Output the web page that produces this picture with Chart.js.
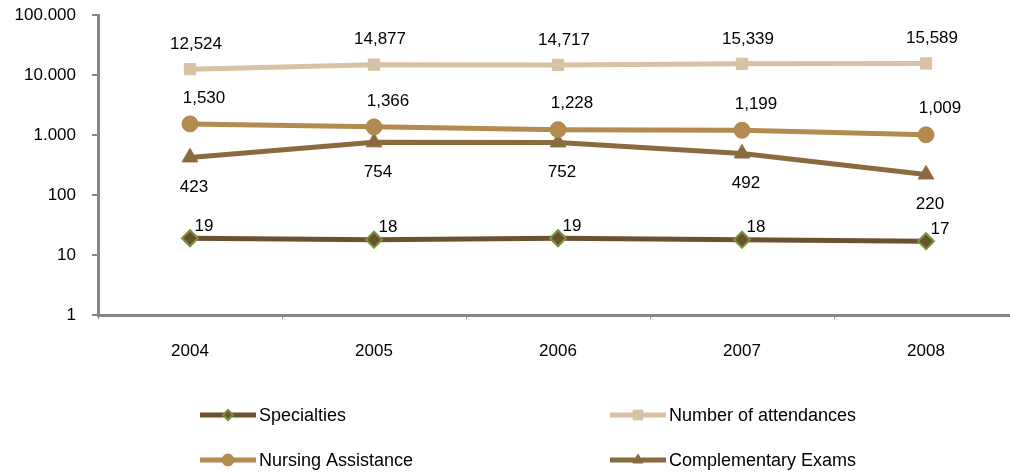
<!DOCTYPE html>
<html>
<head>
<meta charset="utf-8">
<script src="https://cdn.jsdelivr.net/npm/chart.js@4/dist/chart.umd.min.js"></script>
<style>
  html, body { margin: 0; padding: 0; background: #fff; overflow: hidden; }
  .wrap { width: 1010px; height: 472px; overflow: hidden; }
  canvas { display: block; }
</style>
</head>
<body>
<div class="wrap">
  <canvas id="chart" width="1028" height="472"></canvas>
</div>
<script>
const years = ["2004", "2005", "2006", "2007", "2008"];
const specialties = [19, 18, 19, 18, 17];
const attendances = [12524, 14877, 14717, 15339, 15589];
const nursing = [1530, 1366, 1228, 1199, 1009];
const exams = [423, 754, 752, 492, 220];
const yTicks = [1, 10, 100, 1000, 10000, 100000];

const FONT = "'Liberation Sans', Arial, sans-serif";

// label offsets relative to the point (dx, dy)
const labelOffsets = {
  "Number of attendances": [6, -25],
  "Nursing Assistance": [14, -26],
  "Complementary Exams": [4, 30],
  "Specialties": [14, -12],
};

const fmtComma = (v) => v.toLocaleString("en-US");
const fmtDot = (v) => v.toLocaleString("en-US").replace(/,/g, ".");

const dataLabels = {
  id: "dataLabels",
  afterDatasetsDraw(chart) {
    const ctx = chart.ctx;
    ctx.save();
    ctx.font = "17px " + FONT;
    ctx.fillStyle = "#000";
    ctx.textAlign = "center";
    ctx.textBaseline = "middle";
    chart.data.datasets.forEach((ds, i) => {
      const off = labelOffsets[ds.label];
      chart.getDatasetMeta(i).data.forEach((pt, j) => {
        ctx.fillText(fmtComma(ds.data[j]), pt.x + off[0], pt.y + off[1]);
      });
    });
    ctx.restore();
  },
};

// legend in a 2x2 grid under the plot
const legendSlots = {
  "Specialties": [200, 415],
  "Number of attendances": [610, 415],
  "Nursing Assistance": [200, 460],
  "Complementary Exams": [610, 460],
};

const gridLegend = {
  id: "gridLegend",
  afterDraw(chart) {
    const ctx = chart.ctx;
    ctx.save();
    chart.data.datasets.forEach((ds) => {
      const [x, y] = legendSlots[ds.label];
      ctx.strokeStyle = ds.borderColor;
      ctx.lineWidth = 5;
      ctx.beginPath();
      ctx.moveTo(x, y);
      ctx.lineTo(x + 56, y);
      ctx.stroke();
      ctx.fillStyle = ds.pointBackgroundColor;
      ctx.strokeStyle = ds.pointBorderColor;
      ctx.lineWidth = ds.pointBorderWidth;
      Chart.helpers.drawPoint(ctx, {
        pointStyle: ds.pointStyle,
        radius: ds.legendRadius,
        borderWidth: ds.pointBorderWidth,
        rotation: 0,
      }, x + 28, y);
      ctx.font = "18px " + FONT;
      ctx.fillStyle = "#000";
      ctx.textAlign = "left";
      ctx.textBaseline = "middle";
      ctx.fillText(ds.label, x + 59, y + 1);
    });
    ctx.restore();
  },
};

new Chart(document.getElementById("chart"), {
  type: "line",
  data: {
    labels: years,
    datasets: [
      {
        label: "Number of attendances",
        data: attendances,
        borderColor: "#D8C2A4",
        backgroundColor: "#D8C2A4",
        pointBackgroundColor: "#D8C2A4",
        pointBorderColor: "#D8C2A4",
        pointStyle: "rect",
        pointRadius: 8,
        legendRadius: 7,
        pointBorderWidth: 1,
      },
      {
        label: "Nursing Assistance",
        data: nursing,
        borderColor: "#B38A50",
        backgroundColor: "#B38A50",
        pointBackgroundColor: "#B38A50",
        pointBorderColor: "#B38A50",
        pointStyle: "circle",
        pointRadius: 8,
        legendRadius: 6,
        pointBorderWidth: 1,
      },
      {
        label: "Complementary Exams",
        data: exams,
        borderColor: "#8B6A3F",
        backgroundColor: "#8B6A3F",
        pointBackgroundColor: "#8B6A3F",
        pointBorderColor: "#8B6A3F",
        pointStyle: "triangle",
        pointRadius: 9,
        legendRadius: 6,
        pointBorderWidth: 1,
      },
      {
        label: "Specialties",
        data: specialties,
        borderColor: "#6C5131",
        backgroundColor: "#6C5131",
        pointBackgroundColor: "#6C5131",
        pointBorderColor: "#77933C",
        pointStyle: "rectRot",
        pointRadius: 8,
        legendRadius: 5,
        pointBorderWidth: 2,
      },
    ].map((d) => Object.assign(d, { borderWidth: 5, tension: 0, fill: false })),
  },
  options: {
    responsive: false,
    animation: false,
    layout: { padding: { top: 15, right: 2, left: 0, bottom: 0 } },
    plugins: { legend: { display: false }, tooltip: { enabled: false } },
    scales: {
      x: {
        offset: true,
        grid: {
          offset: true,
          drawOnChartArea: false,
          drawTicks: true,
          tickLength: 4,
          color: "#868686",
          lineWidth: 1,
        },
        border: { color: "#868686", width: 3 },
        ticks: {
          font: { family: FONT, size: 17 },
          color: "#000",
          padding: 22,
          maxRotation: 0,
        },
        afterFit(scale) { scale.height = 157; },
      },
      y: {
        type: "logarithmic",
        min: 1,
        max: 100000,
        afterBuildTicks(scale) {
          scale.ticks = yTicks.map((v) => ({ value: v }));
        },
        grid: {
          drawOnChartArea: false,
          drawTicks: true,
          tickLength: 6,
          color: "#868686",
          lineWidth: 2,
        },
        border: { color: "#868686", width: 3 },
        ticks: {
          font: { family: FONT, size: 17 },
          color: "#000",
          padding: 16,
          callback: (v) => fmtDot(v),
        },
        afterFit(scale) {
          scale.width = 98;
          scale.paddingTop = 0;
          scale.paddingBottom = 0;
        },
      },
    },
  },
  plugins: [dataLabels, gridLegend],
});
</script>
</body>
</html>
